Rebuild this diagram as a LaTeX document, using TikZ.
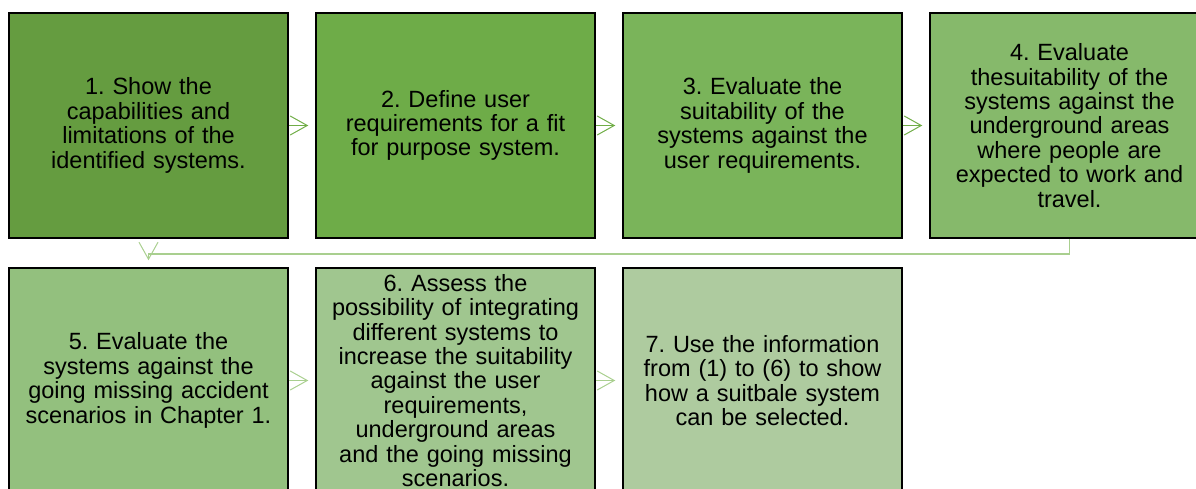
\documentclass[tikz,border=0pt]{standalone}
\usepackage{fontspec}
\setmainfont{Liberation Sans}
\usetikzlibrary{arrows.meta}
\frenchspacing
\definecolor{cA}{HTML}{659C40}
\definecolor{cB}{HTML}{6EAC48}
\definecolor{cC}{HTML}{7AB45A}
\definecolor{cD}{HTML}{86B96B}
\definecolor{cE}{HTML}{93C07E}
\definecolor{cF}{HTML}{A0C68F}
\definecolor{cG}{HTML}{AECB9F}
\definecolor{arrA}{HTML}{70AD47}
\definecolor{arrB}{HTML}{A9CF8F}
\tikzset{
  stepbox/.style={draw=black, line width=1.5pt, minimum width=279pt, minimum height=225pt,
    inner sep=0pt, align=center, text width=270pt,
    font=\fontsize{23.5pt}{24.4pt}\selectfont},
  flowarr/.style={line width=1pt, -{Straight Barb[length=17pt,width=19pt,line width=1pt]}, shorten >=7pt},
}
\begin{document}
\begin{tikzpicture}[x=1pt,y=-1pt]
\useasboundingbox (0,0) rectangle (1196,489);
\node[stepbox, fill=cA] (b1) at (148.5,125.5) {1. Show the\\capabilities and\\limitations of the\\identified systems.};
\node[stepbox, fill=cB] (b2) at (455.5,125.5) {2. Define user\\requirements for a fit\\for purpose system.};
\node[stepbox, fill=cC] (b3) at (762.5,125.5) {3. Evaluate the\\suitability of the\\systems against the\\user requirements.};
\node[stepbox, fill=cD] (b4) at (1069.5,125.5) {4. Evaluate\\thesuitability of the\\systems against the\\underground areas\\where people are\\expected to work and\\travel.};
\node[stepbox, fill=cE] (b5) at (148.5,380.5) {5. Evaluate the\\systems against the\\going missing accident\\scenarios in Chapter 1.};
\node[stepbox, fill=cF] (b6) at (455.5,380.5) {6. Assess the\\possibility of integrating\\different systems to\\increase the suitability\\against the user\\requirements,\\underground areas\\and the going missing\\scenarios.};
\node[stepbox, fill=cG] (b7) at (762.5,380.5) {7. Use the information\\from (1) to (6) to show\\how a suitbale system\\can be selected.};
\draw[flowarr, draw=arrA] (b1) -- (b2);
\draw[flowarr, draw=arrA] (b2) -- (b3);
\draw[flowarr, draw=arrA] (b3) -- (b4);
\draw[flowarr, draw=arrB] (b5) -- (b6);
\draw[flowarr, draw=arrB] (b6) -- (b7);
\draw[flowarr, draw=arrB, line width=1.5pt] (b4.south) -- ++(0,15) -| (b5.north);
\end{tikzpicture}
\end{document}
